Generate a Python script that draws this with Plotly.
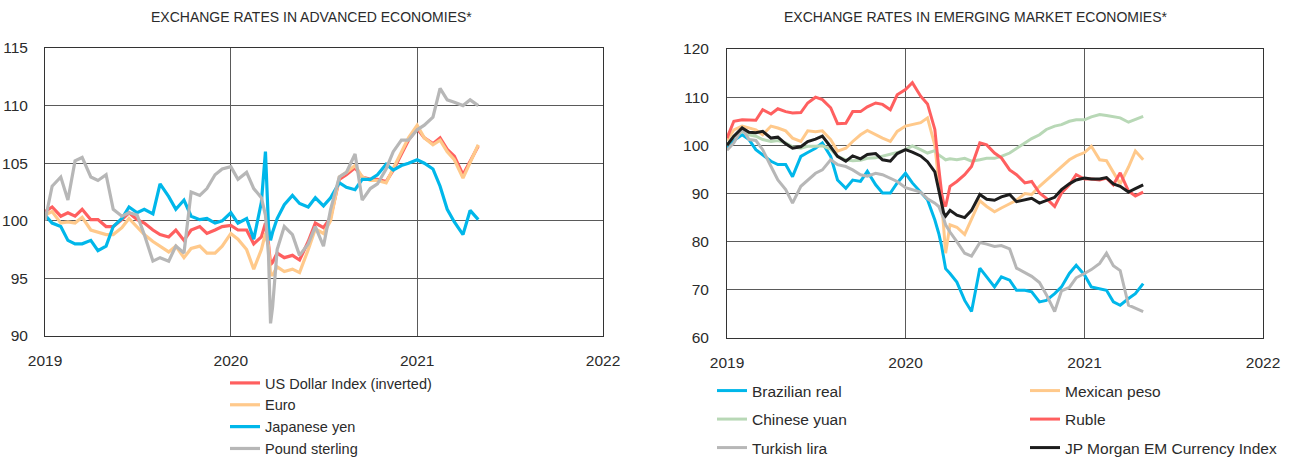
import plotly.graph_objects as go

dates = [
    "2019-01-01", "2019-01-15", "2019-02-01", "2019-02-15", "2019-03-01", "2019-03-15",
    "2019-04-01", "2019-04-15", "2019-05-01", "2019-05-15", "2019-06-01", "2019-06-15",
    "2019-07-01", "2019-07-15", "2019-08-01", "2019-08-15", "2019-09-01", "2019-09-15",
    "2019-10-01", "2019-10-15", "2019-11-01", "2019-11-15", "2019-12-01", "2019-12-15",
    "2020-01-01", "2020-01-15", "2020-02-01", "2020-02-15", "2020-03-01", "2020-03-09",
    "2020-03-15", "2020-03-19", "2020-03-23", "2020-04-01", "2020-04-15", "2020-05-01",
    "2020-05-15", "2020-06-01", "2020-06-15", "2020-07-01", "2020-07-15", "2020-08-01",
    "2020-08-15", "2020-09-01", "2020-09-15", "2020-10-01", "2020-10-15", "2020-11-01",
    "2020-11-15", "2020-12-01", "2020-12-15",
    "2021-01-01", "2021-01-15", "2021-02-01", "2021-02-15", "2021-03-01", "2021-03-15",
    "2021-04-01", "2021-04-15", "2021-05-01",
]

# ---- Advanced economies ----
usd_index_inv = [
    100.8, 101.2, 100.4, 100.7, 100.4, 101.0, 100.1, 100.1, 99.5, 99.5, 100.1, 100.7,
    100.1, 99.8, 99.2, 98.8, 98.6, 99.2, 98.3, 99.2, 99.5, 98.9, 99.2, 99.5,
    99.6, 99.2, 99.2, 98.0, 98.6, 99.8, 98.0, 96.2, 96.4, 97.2, 96.8, 97.0,
    96.6, 98.2, 99.8, 99.4, 100.3, 103.6, 104.0, 104.6, 103.8, 103.6, 103.6, 103.4,
    104.4, 105.8, 107.0,
    108.0, 107.2, 106.7, 107.2, 106.2, 105.6, 104.0, 105.2, 106.5,
]
euro = [
    100.5, 100.8, 99.8, 99.9, 99.8, 100.3, 99.2, 99.0, 98.8, 98.8, 99.4, 100.2,
    99.4, 98.8, 98.2, 97.8, 97.3, 97.8, 96.8, 97.6, 97.8, 97.2, 97.2, 97.8,
    98.9, 98.4, 97.5, 95.8, 97.5, 98.9, 97.8, 95.3, 95.3, 96.0, 95.6, 95.8,
    95.5, 97.5, 99.3, 98.9, 100.0, 103.8, 104.2, 104.8, 103.8, 103.5, 103.5, 103.3,
    104.5, 106.0, 107.2,
    108.3, 107.2, 106.6, 107.0, 106.0, 105.3, 103.7, 105.0, 106.6,
]
japanese_yen = [
    100.5, 99.8, 99.5, 98.3, 98.0, 98.0, 98.3, 97.4, 97.8, 99.5, 100.2, 101.2,
    100.7, 101.0, 100.6, 103.2, 102.1, 101.0, 101.8, 100.4, 100.1, 100.2, 99.8, 100.0,
    100.7, 99.8, 100.2, 98.4, 101.6, 106.0, 99.5, 98.3, 99.0, 100.2, 101.4, 102.2,
    101.5, 101.2, 102.0, 101.3, 102.0, 103.3, 102.9, 102.7, 103.6, 103.6, 104.0, 104.9,
    104.4, 104.8, 105.0,
    105.3, 105.0, 104.5, 103.0, 101.0, 99.9, 98.8, 100.9, 100.1,
]
pound_sterling = [
    100.0, 103.0, 103.8, 101.8, 105.2, 105.5, 103.8, 103.5, 104.0, 101.0, 100.4, 100.7,
    100.5, 98.8, 96.5, 96.8, 96.5, 97.8, 97.2, 102.5, 102.2, 102.8, 104.0, 104.5,
    104.7, 103.6, 104.2, 102.8, 102.0, 100.5, 97.0, 91.1, 92.5, 97.5, 99.5, 98.8,
    97.0, 98.0, 99.5, 97.8, 101.0, 103.8, 104.2, 105.8, 101.8, 102.8, 103.2, 104.5,
    106.0, 107.0, 107.0,
    107.9, 108.3, 109.0, 111.5, 110.5, 110.3, 110.0, 110.5, 110.0,
]

# ---- Emerging market economies ----
brazilian_real = [
    99.5, 101.0, 102.2, 101.2, 99.1, 98.0, 96.7, 96.0, 96.0, 93.5, 97.7, 98.5,
    99.4, 100.5, 97.7, 92.8, 91.1, 92.8, 92.5, 94.6, 91.8, 90.1, 90.1, 92.2,
    94.2, 92.2, 90.4, 88.7, 84.5, 81.7, 79.0, 76.2, 74.4, 73.4, 71.6, 67.8,
    65.5, 74.5, 72.7, 70.6, 72.7, 72.0, 69.9, 69.9, 69.6, 67.5, 67.8, 69.2,
    70.6, 73.4, 75.1,
    73.1, 70.6, 70.3, 69.9, 67.5, 66.8, 68.2, 69.2, 71.3,
]
mexican_peso = [
    101.0, 103.2, 104.0, 103.6, 103.2, 102.2, 104.0, 103.6, 103.0, 101.5, 100.8, 103.0,
    102.8, 103.0, 101.2, 98.8, 99.4, 100.8, 102.2, 103.1, 102.2, 101.5, 100.8, 102.9,
    104.0, 104.3, 104.7, 105.7, 100.0, 92.5, 88.0, 83.0, 77.6, 83.5, 83.0, 81.5,
    84.5, 88.5, 87.3, 86.2, 87.0, 87.8, 88.6, 90.0, 89.8, 91.5, 92.8, 94.2,
    95.5, 97.0, 97.8,
    98.5, 99.8, 97.0, 96.8, 94.5, 92.0, 95.5, 98.8, 97.0,
]
chinese_yuan = [
    100.0, 101.9, 102.9, 102.2, 101.9, 101.2, 100.8, 101.0, 100.5, 99.7, 99.4, 99.8,
    99.8, 99.9, 99.2, 97.7, 97.0, 96.8, 96.9, 97.3, 97.4, 97.7, 98.1, 98.5,
    99.1, 99.9, 99.1, 98.4, 98.9, 98.0, 97.6, 97.2, 97.0, 97.2, 97.0, 97.3,
    96.7, 97.0, 97.3, 97.3, 97.7, 98.4, 99.4, 100.5, 101.4, 102.2, 103.3, 104.0,
    104.3, 105.0, 105.3,
    105.3, 105.9, 106.4, 106.2, 106.0, 105.7, 104.8, 105.3, 106.0,
]
ruble = [
    101.5, 105.0, 105.3, 105.3, 105.2, 107.4, 106.5, 107.6, 107.0, 106.7, 106.8, 108.8,
    110.0, 109.5, 107.8, 104.5, 104.6, 107.0, 107.0, 108.0, 108.8, 108.5, 107.4, 110.5,
    111.6, 113.0, 110.2, 108.6, 103.3, 95.3, 90.0, 88.0, 87.3, 91.5, 92.5, 93.9,
    95.6, 100.5, 100.1, 98.4, 97.4, 94.9, 93.9, 92.2, 92.5, 90.1, 89.0, 87.3,
    90.1, 91.8, 93.9,
    93.0, 93.0, 92.8, 93.2, 91.8, 94.3, 90.5, 89.5, 90.3,
]
turkish_lira = [
    99.0, 100.5, 103.5, 101.2, 101.0, 99.1, 95.6, 92.8, 90.8, 88.0, 91.5, 92.8,
    94.2, 94.9, 97.0, 96.0, 95.6, 94.9, 93.9, 93.6, 94.2, 93.9, 93.2, 92.5,
    91.2, 90.8, 90.3, 88.9, 88.0, 87.3, 86.0, 84.8, 83.5, 82.0, 80.0, 77.6,
    77.0, 79.8, 79.5, 79.0, 79.2, 78.5, 74.5, 73.5, 72.8, 71.5, 69.0, 65.5,
    69.8, 70.5, 72.5,
    73.4, 74.2, 75.5, 77.6, 75.0, 74.0, 66.8, 66.2, 65.5,
]
jpm_em_index = [
    100.0, 101.9, 103.6, 102.7, 102.6, 102.9, 101.5, 101.7, 100.3, 99.4, 99.7, 100.8,
    101.3, 101.9, 99.7, 97.7, 96.7, 97.8, 97.2, 98.1, 98.3, 97.0, 96.7, 98.3,
    99.1, 98.6, 97.8, 96.6, 94.5, 91.0, 88.0, 86.0, 85.3, 86.5, 85.5, 85.0,
    86.5, 89.8, 88.8, 88.6, 89.3, 89.8, 88.3, 88.6, 89.0, 88.0, 88.5, 89.2,
    90.8, 92.0, 92.8,
    93.2, 93.0, 93.0, 93.3, 92.0, 91.5, 90.3, 91.0, 91.8,
]

left_title = "EXCHANGE RATES IN ADVANCED ECONOMIES*"
right_title = "EXCHANGE RATES IN EMERGING MARKET ECONOMIES*"
year_ticks = ["2019-01-01", "2020-01-01", "2021-01-01", "2022-01-01"]
year_labels = ["2019", "2020", "2021", "2022"]

W, H = 1290, 465
FONT = "Liberation Sans, Arial, sans-serif"
TXT = "#2b2b2b"

RED = "#FF5F5F"
ORANGE = "#FFC98B"
BLUE = "#00B7EA"
GRAY = "#B7B7B7"
GREEN = "#B8D8B6"
BLACK = "#1D1D1D"


def px(x):
    return x / W


def py(y):
    return (H - y) / H


fig = go.Figure()

left_series = [
    ("US Dollar Index (inverted)", usd_index_inv, RED),
    ("Euro", euro, ORANGE),
    ("Japanese yen", japanese_yen, BLUE),
    ("Pound sterling", pound_sterling, GRAY),
]
for i, (name, vals, col) in enumerate(left_series):
    fig.add_trace(go.Scatter(
        x=dates, y=vals, name=name, mode="lines",
        line=dict(color=col, width=3.2),
        xaxis="x", yaxis="y", legend="legend", legendgroup=f"L{i}",
    ))

right_series = [
    ("Brazilian real", brazilian_real, BLUE, "legend2"),
    ("Mexican peso", mexican_peso, ORANGE, "legend3"),
    ("Chinese yuan", chinese_yuan, GREEN, "legend2"),
    ("Ruble", ruble, RED, "legend3"),
    ("Turkish lira", turkish_lira, GRAY, "legend2"),
    ("JP Morgan EM Currency Index", jpm_em_index, BLACK, "legend3"),
]
for i, (name, vals, col, lg) in enumerate(right_series):
    fig.add_trace(go.Scatter(
        x=dates, y=vals, name=name, mode="lines",
        line=dict(color=col, width=3),
        xaxis="x2", yaxis="y2", legend=lg, legendgroup=f"R{i}",
    ))

TICK_SIZE = 15.5
axis_common = dict(
    showline=True, mirror=True, linecolor="#333333", linewidth=1,
    showgrid=True, gridcolor="#5a5a5a", gridwidth=1,
    zeroline=False, ticks="", automargin=False,
    tickfont=dict(family=FONT, size=TICK_SIZE, color=TXT),
)
xcommon = dict(axis_common, type="date", range=["2019-01-01", "2022-01-01"],
               tickvals=year_ticks, ticktext=year_labels, ticklabelstandoff=10)

# legends sit flush with the bottom edge so they never push the plot margins
legend_common = dict(y=0, xanchor="left", yanchor="bottom", orientation="v",
                     bgcolor="rgba(0,0,0,0)", borderwidth=0)

fig.update_layout(
    width=W, height=H,
    margin=dict(l=0, r=0, t=0, b=0),
    paper_bgcolor="white", plot_bgcolor="white",
    font=dict(family=FONT, size=TICK_SIZE, color=TXT),
    xaxis=dict(xcommon, domain=[px(45), px(603)], anchor="y"),
    yaxis=dict(axis_common, domain=[py(336), py(48)], range=[90, 115], dtick=5,
               anchor="x", ticklabelstandoff=13),
    xaxis2=dict(xcommon, domain=[px(727), px(1263)], anchor="y2"),
    yaxis2=dict(axis_common, domain=[py(338), py(49)], range=[60, 120], dtick=10,
                anchor="x2", ticklabelstandoff=14),
    legend=dict(legend_common, x=px(225), tracegroupgap=0,
                font=dict(family=FONT, size=14.5, color=TXT)),
    legend2=dict(legend_common, x=px(712), tracegroupgap=5.35,
                 font=dict(family=FONT, size=15.5, color=TXT)),
    legend3=dict(legend_common, x=px(1025), tracegroupgap=5.35,
                 font=dict(family=FONT, size=15.5, color=TXT)),
    annotations=[
        dict(text=left_title, x=px(311), y=py(17), xref="paper", yref="paper",
             showarrow=False, xanchor="center", yanchor="middle",
             font=dict(family=FONT, size=14, color=TXT)),
        dict(text=right_title, x=px(976), y=py(17), xref="paper", yref="paper",
             showarrow=False, xanchor="center", yanchor="middle",
             font=dict(family=FONT, size=14, color=TXT)),
    ],
    showlegend=True,
)

fig.write_html(
    "out.html",
    config={"displayModeBar": False},
    post_script="document.body.style.margin='0';document.body.style.overflow='hidden';",
)
